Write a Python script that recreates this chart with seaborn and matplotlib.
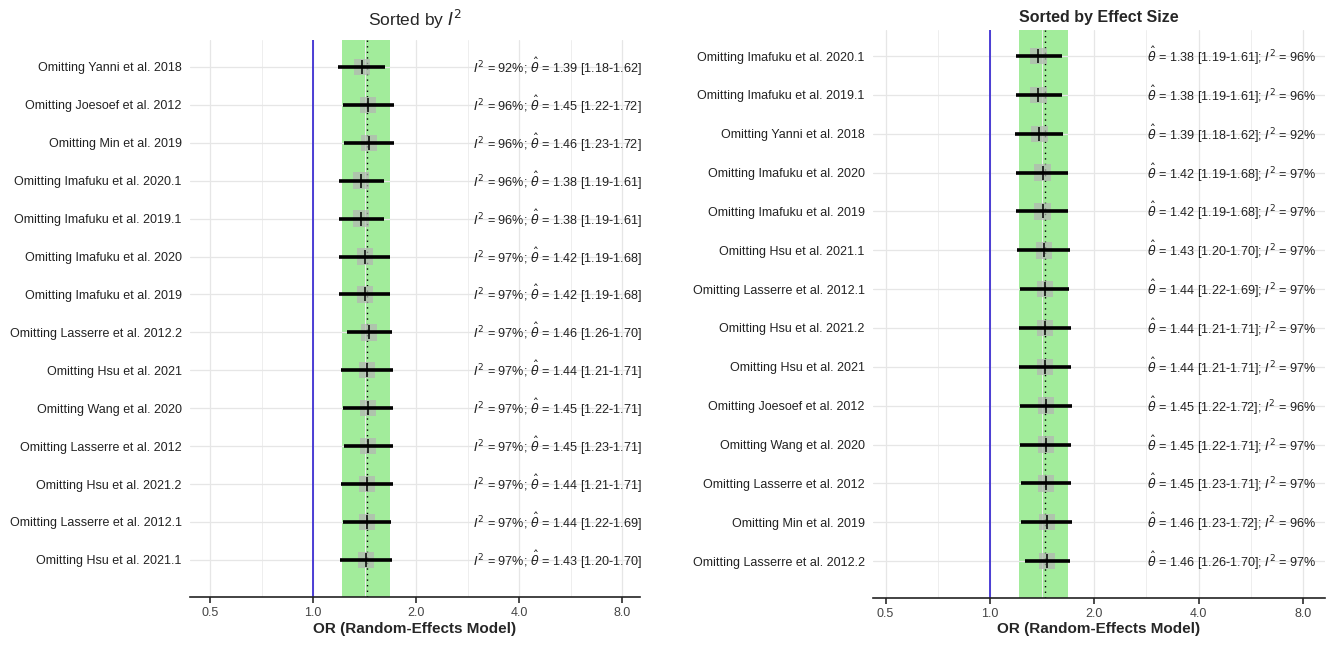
import numpy as np
import pandas as pd
import seaborn as sns
import matplotlib.pyplot as plt
from matplotlib.ticker import FixedLocator, NullFormatter

# leave-one-out results
studies = ["Yanni et al. 2018", "Joesoef et al. 2012", "Min et al. 2019",
           "Imafuku et al. 2020.1", "Imafuku et al. 2019.1", "Imafuku et al. 2020",
           "Imafuku et al. 2019", "Lasserre et al. 2012.2", "Hsu et al. 2021",
           "Wang et al. 2020", "Lasserre et al. 2012", "Hsu et al. 2021.2",
           "Lasserre et al. 2012.1", "Hsu et al. 2021.1"]
i2 = [92, 96, 96, 96, 96, 97, 97, 97, 97, 97, 97, 97, 97, 97]
est = [1.39, 1.45, 1.46, 1.38, 1.38, 1.42, 1.42, 1.46, 1.44, 1.45, 1.45, 1.44, 1.44, 1.43]
lower = [1.18, 1.22, 1.23, 1.19, 1.19, 1.19, 1.19, 1.26, 1.21, 1.22, 1.23, 1.21, 1.22, 1.20]
upper = [1.62, 1.72, 1.72, 1.61, 1.61, 1.68, 1.68, 1.70, 1.71, 1.71, 1.71, 1.71, 1.69, 1.70]

order_i2 = list(studies)
order_es = ["Imafuku et al. 2020.1", "Imafuku et al. 2019.1", "Yanni et al. 2018",
            "Imafuku et al. 2020", "Imafuku et al. 2019", "Hsu et al. 2021.1",
            "Lasserre et al. 2012.1", "Hsu et al. 2021.2", "Hsu et al. 2021",
            "Joesoef et al. 2012", "Wang et al. 2020", "Lasserre et al. 2012",
            "Min et al. 2019", "Lasserre et al. 2012.2"]

pooled, pooled_lo, pooled_hi = 1.44, 1.215, 1.675
x_ticks = [0.5, 1.0, 2.0, 4.0, 8.0]
x_tick_labels = ["0.5", "1.0", "2.0", "4.0", "8.0"]

df = pd.DataFrame({"study": studies, "i2": i2, "est": est, "lower": lower, "upper": upper})

sns.set_theme(style="whitegrid")
plt.rcParams['font.family'] = ['Liberation Sans', 'DejaVu Sans']

fig = plt.figure(figsize=(13.43, 6.46), dpi=100)
W, H = 1343, 646


def forest(ax, order, title, bold, xlim, ylim, txt_x, i2_first):
    d = df.set_index("study").loc[order].reset_index()
    d["pos"] = np.arange(len(d))
    d["label"] = "Omitting " + d["study"]

    ax.set_xscale("log")
    ax.axvspan(pooled_lo, pooled_hi, color="#A2EC9B", zorder=0.5, lw=0)
    ax.axvline(pooled, color="black", ls=(0, (1, 3)), lw=1, zorder=1)
    ax.axvline(1.0, color="#2F1FD0", lw=1.2, zorder=1)

    ax.hlines(d["pos"], d["lower"], d["upper"], color="black", lw=2.6, zorder=3)
    sns.scatterplot(data=d, x="est", y="pos", marker="s", s=140, color="#B4B4B4",
                    alpha=0.7, edgecolor="none", ax=ax, zorder=2, legend=False)
    ax.scatter(d["est"], d["pos"], marker="|", s=110, color="black", lw=1.1, zorder=4)

    for _, r in d.iterrows():
        if i2_first:
            s = (r"$I^2$ = %d%%; $\hat{\theta}$ = %.2f [%.2f-%.2f]"
                 % (r["i2"], r["est"], r["lower"], r["upper"]))
        else:
            s = (r"$\hat{\theta}$ = %.2f [%.2f-%.2f]; $I^2$ = %d%%"
                 % (r["est"], r["lower"], r["upper"], r["i2"]))
        ax.text(txt_x, r["pos"], s, transform=ax.get_yaxis_transform(),
                ha="left", va="center", fontsize=9.1, color="#222222")

    ax.set_xlim(*xlim)
    ax.set_ylim(*ylim)
    ax.set_yticks(d["pos"])
    ax.set_yticklabels(d["label"], fontsize=9, color="#222222")
    ax.xaxis.set_major_locator(FixedLocator(x_ticks))
    ax.set_xticklabels(x_tick_labels, fontsize=9, color="#444444")
    minor = [np.sqrt(x_ticks[i] * x_ticks[i + 1]) for i in range(len(x_ticks) - 1)]
    minor = [x_ticks[0] / np.sqrt(2)] + minor
    ax.xaxis.set_minor_locator(FixedLocator(minor))
    ax.xaxis.set_minor_formatter(NullFormatter())
    ax.grid(True, which="major", color="#E6E6E6", lw=0.9)
    ax.grid(True, which="minor", axis="x", color="#EEEEEE", lw=0.7)
    ax.set_facecolor("white")
    for side in ["top", "right", "left"]:
        ax.spines[side].set_visible(False)
    ax.spines["bottom"].set_visible(True)
    ax.spines["bottom"].set_color("#222222")
    ax.spines["bottom"].set_linewidth(1.2)
    ax.tick_params(axis="x", which="major", bottom=True, length=4, color="#333333", pad=3)
    ax.tick_params(axis="y", length=0, pad=6)
    ax.set_xlabel("OR (Random-Effects Model)", fontsize=11, fontweight="bold", labelpad=2)
    ax.set_ylabel("")
    ax.set_title(title, fontsize=12.5 if not bold else 11.5,
                 fontweight="bold" if bold else "normal", pad=10 if not bold else 6)


ax1 = fig.add_axes([190 / W, (H - 597) / H, 450 / W, 557 / H])
forest(ax1, order_i2, r"Sorted by $I^2$", False, (0.437, 9.03), (13.98, -0.71), 0.629, True)

ax2 = fig.add_axes([873 / W, (H - 598) / H, 452 / W, 568 / H])
forest(ax2, order_es, "Sorted by Effect Size", True, (0.46, 9.26), (13.95, -0.67), 0.606, False)

fig.savefig("out.png", dpi=100)
